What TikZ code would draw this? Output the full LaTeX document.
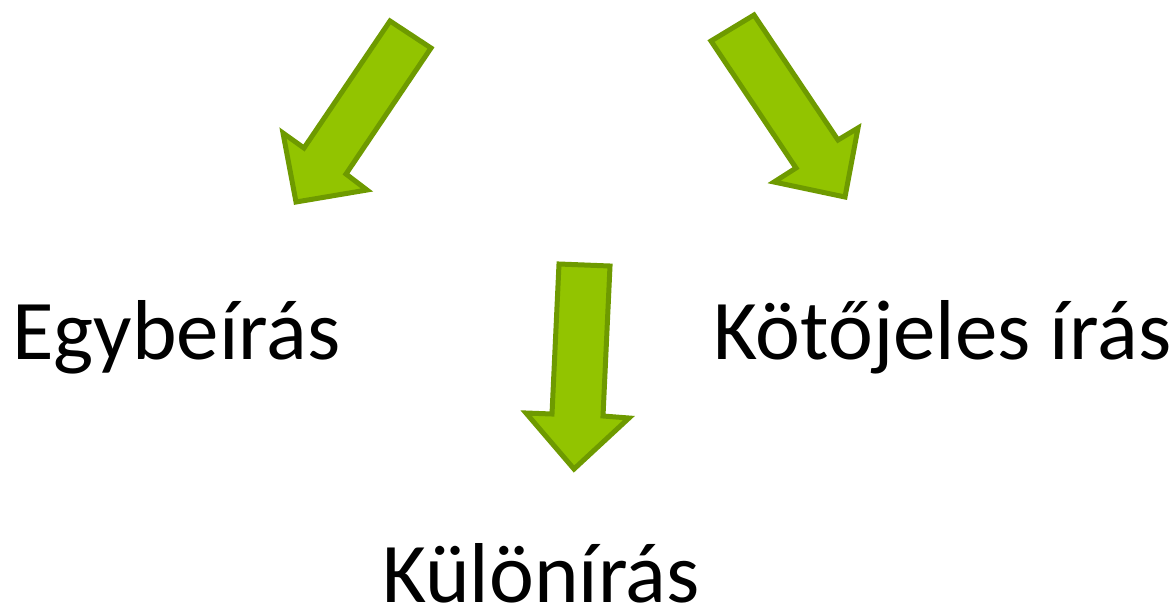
\documentclass[tikz,border=0pt]{standalone}
\usepackage{fontspec}
\setmainfont{Carlito}
\definecolor{arrowfill}{HTML}{92C400}
\definecolor{arrowline}{HTML}{6E9A00}
\tikzset{
  blockarrow/.style={fill=arrowfill, draw=arrowline, line width=5pt, line join=miter},
  label/.style={inner sep=0pt, anchor=base west, font=\fontsize{85pt}{100pt}\selectfont}
}
\begin{document}
\begin{tikzpicture}[x=1pt,y=-1pt]
\useasboundingbox (0,0) rectangle (1172,606);
% left arrow
\draw[blockarrow] (390,21) -- (431,48) -- (346,174) -- (367,190) -- (296,202) -- (283,133) -- (304,148) -- cycle;
% right arrow
\draw[blockarrow] (711,41) -- (754,15) -- (838,140) -- (858,128) -- (845,197) -- (774,182) -- (796,168) -- cycle;
% middle arrow
\draw[blockarrow] (559,264) -- (610,266) -- (603,416) -- (629,418) -- (574,469) -- (526,413) -- (552,414) -- cycle;
\node[label] (egy) at (12,359) {Egybeírás};
\node[label] (kot) at (713,359) {Kötőjeles írás};
\node[label] (kul) at (382,602) {Különírás};
\end{tikzpicture}
\end{document}
